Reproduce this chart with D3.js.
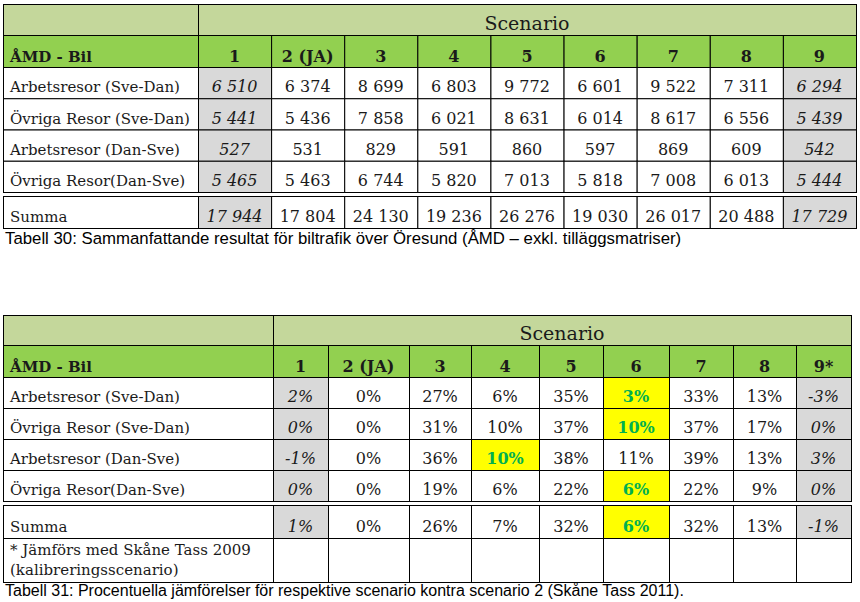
<!DOCTYPE html>
<html>
<head>
<meta charset="utf-8">
<script src="https://cdn.jsdelivr.net/npm/d3@7/dist/d3.min.js"></script>
<style>
  body { margin: 0; background: #fff; }
  svg text { font-family: "DejaVu Serif", serif; }
  svg text.caption { font-family: "Liberation Sans", Arial, sans-serif; }
</style>
</head>
<body>
<div id="chart"></div>
<script>
// --- data ---
var scenarios1 = ["1", "2 (JA)", "3", "4", "5", "6", "7", "8", "9"];
var scenarios2 = ["1", "2 (JA)", "3", "4", "5", "6", "7", "8", "9*"];
var rowLabels = ["Arbetsresor (Sve-Dan)", "Övriga Resor (Sve-Dan)", "Arbetsresor (Dan-Sve)", "Övriga Resor(Dan-Sve)", "Summa"];

// Tabell 30, number of car trips (ÅMD)
var arbetsSveDan = [6510, 6374, 8699, 6803, 9772, 6601, 9522, 7311, 6294];
var ovrigaSveDan = [5441, 5436, 7858, 6021, 8631, 6014, 8617, 6556, 5439];
var arbetsDanSve = [527, 531, 829, 591, 860, 597, 869, 609, 542];
var ovrigaDanSve = [5465, 5463, 6744, 5820, 7013, 5818, 7008, 6013, 5444];
var summa = [17944, 17804, 24130, 19236, 26276, 19030, 26017, 20488, 17729];

// Tabell 31, percent change vs scenario 2
var pctArbetsSveDan = [2, 0, 27, 6, 35, 3, 33, 13, -3];
var pctOvrigaSveDan = [0, 0, 31, 10, 37, 10, 37, 17, 0];
var pctArbetsDanSve = [-1, 0, 36, 10, 38, 11, 39, 13, 3];
var pctOvrigaDanSve = [0, 0, 19, 6, 22, 6, 22, 9, 0];
var pctSumma = [1, 0, 26, 7, 32, 6, 32, 13, -1];

var refCols = [0, 8];                                   // calibration columns (grey, italic)
var highlights = [[0, 5], [1, 5], [2, 3], [3, 5], [4, 5]]; // [row, col] in Tabell 31
var footnote = ["* Jämförs med Skåne Tass 2009", "(kalibreringsscenario)"];
var caption1 = "Tabell 30: Sammanfattande resultat för biltrafik över Öresund (ÅMD – exkl. tilläggsmatriser)";
var caption2 = "Tabell 31: Procentuella jämförelser för respektive scenario kontra scenario 2 (Skåne Tass 2011).";

// --- layout ---
var width = 860, height = 602;
var colors = {
    head1: "#c4d79b",
    head2: "#92d050",
    grey: "#d9d9d9",
    yellow: "#ffff00",
    green: "#00b050",
    text: "#1a1a1a"
};

var svLocale = d3.formatLocale({decimal: ",", thousands: "\u00a0", grouping: [3], currency: ["", " kr"]});
var fmtNum = svLocale.format(",d");
var fmtPct = function(d) { return d + "%"; };

var svg = d3.select("#chart").append("svg")
    .attr("width", width)
    .attr("height", height);

function drawTable(cfg) {
    var g = svg.append("g");
    var x = cfg.x, w = cfg.w;
    var left = cfg.left, labelEnd = cfg.labelEnd, right = cfg.right;

    // cells
    var cells = [];
    cfg.values.forEach(function(vals, r) {
        vals.forEach(function(v, c) {
            var hl = cfg.highlights.some(function(h) { return h[0] == r && h[1] == c; });
            cells.push({r: r, c: c, v: v, ref: refCols.indexOf(c) >= 0, hl: hl});
        });
    });

    function rowY(r) { return r < 4 ? cfg.y(rowLabels[r]) : cfg.summaY[0]; }
    function rowH(r) { return r < 4 ? cfg.y.bandwidth() : cfg.summaY[1] - cfg.summaY[0]; }

    // header row 1
    g.append("rect").attr("x", left + 0.5).attr("y", cfg.head1[0] + 0.5)
        .attr("width", right - left).attr("height", cfg.head1[1] - cfg.head1[0])
        .attr("fill", colors.head1).attr("stroke", "#000");
    g.append("line").attr("x1", labelEnd + 0.5).attr("x2", labelEnd + 0.5)
        .attr("y1", cfg.head1[0]).attr("y2", cfg.head1[1]).attr("stroke", "#000");
    g.append("text")
        .attr("x", (labelEnd + right) / 2).attr("y", cfg.head1[1] - 5)
        .attr("text-anchor", "middle").attr("font-size", 19).attr("fill", colors.text)
        .text("Scenario");

    // header row 2
    g.append("rect").attr("x", left + 0.5).attr("y", cfg.head2[0] + 0.5)
        .attr("width", labelEnd - left).attr("height", cfg.head2[1] - cfg.head2[0])
        .attr("fill", colors.head2).attr("stroke", "#000");
    g.append("text").attr("x", left + 7).attr("y", cfg.head2[1] - 5)
        .attr("font-size", 15).attr("font-weight", "bold").attr("fill", colors.text)
        .text("ÅMD - Bil");
    var head = g.selectAll(".head").data(cfg.scenarios).enter().append("g").attr("class", "head");
    head.append("rect")
        .attr("x", function(d) { return x(d) + 0.5; }).attr("y", cfg.head2[0] + 0.5)
        .attr("width", function(d) { return w(d); }).attr("height", cfg.head2[1] - cfg.head2[0])
        .attr("fill", colors.head2).attr("stroke", "#000");
    head.append("text")
        .attr("x", function(d) { return x(d) + w(d) / 2; }).attr("y", cfg.head2[1] - 5)
        .attr("text-anchor", "middle").attr("font-size", 16).attr("font-weight", "bold")
        .attr("fill", colors.text)
        .text(function(d) { return d; });

    // row labels
    var lab = g.selectAll(".lab").data(rowLabels).enter().append("g").attr("class", "lab");
    lab.append("rect")
        .attr("x", left + 0.5).attr("y", function(d, i) { return rowY(i) + 0.5; })
        .attr("width", labelEnd - left).attr("height", function(d, i) { return rowH(i); })
        .attr("fill", "#fff").attr("stroke", "#000");
    lab.append("text")
        .attr("x", left + 7).attr("y", function(d, i) { return rowY(i) + rowH(i) - 6; })
        .attr("font-size", 15).attr("fill", colors.text)
        .text(function(d) { return d; });

    // value cells
    var cell = g.selectAll(".cell").data(cells).enter().append("g").attr("class", "cell");
    cell.append("rect")
        .attr("x", function(d) { return x(cfg.scenarios[d.c]) + 0.5; })
        .attr("y", function(d) { return rowY(d.r) + 0.5; })
        .attr("width", function(d) { return w(cfg.scenarios[d.c]); })
        .attr("height", function(d) { return rowH(d.r); })
        .attr("fill", function(d) { return d.hl ? colors.yellow : (d.ref ? colors.grey : "#fff"); })
        .attr("stroke", "#000");
    cell.append("text")
        .attr("x", function(d) { return x(cfg.scenarios[d.c]) + w(cfg.scenarios[d.c]) / 2; })
        .attr("y", function(d) { return rowY(d.r) + rowH(d.r) - 6; })
        .attr("text-anchor", "middle").attr("font-size", 16)
        .attr("font-style", function(d) { return d.ref ? "italic" : null; })
        .attr("font-weight", function(d) { return d.hl ? "bold" : null; })
        .attr("fill", function(d) { return d.hl ? colors.green : colors.text; })
        .text(function(d) { return cfg.fmt(d.v); });

    // footnote row (Tabell 31)
    if (cfg.foot) {
        g.append("rect").attr("x", left + 0.5).attr("y", cfg.foot[0] + 0.5)
            .attr("width", labelEnd - left).attr("height", cfg.foot[1] - cfg.foot[0])
            .attr("fill", "#fff").attr("stroke", "#000");
        g.selectAll(".fcell").data(cfg.scenarios).enter().append("rect")
            .attr("x", function(d) { return x(d) + 0.5; }).attr("y", cfg.foot[0] + 0.5)
            .attr("width", function(d) { return w(d); }).attr("height", cfg.foot[1] - cfg.foot[0])
            .attr("fill", "#fff").attr("stroke", "#000");
        g.append("text").attr("font-size", 15).attr("fill", colors.text)
            .selectAll("tspan").data(footnote).enter().append("tspan")
            .attr("x", left + 7).attr("y", function(d, i) { return cfg.foot[0] + 17 + i * 20; })
            .text(function(d) { return d; });
    }

    // caption
    svg.append("text")
        .attr("class", "caption")
        .attr("x", left + 2).attr("y", cfg.captionY)
        .attr("font-size", cfg.captionSize)
        .attr("fill", "#000")
        .text(cfg.caption);
}

// Tabell 30: evenly spaced scenario columns
var x1 = d3.scaleBand().domain(scenarios1).range([198, 856]);
drawTable({
    scenarios: scenarios1,
    left: 3, labelEnd: 198, right: 856,
    x: x1, w: function() { return x1.bandwidth(); },
    head1: [4, 35], head2: [35, 67],
    y: d3.scaleBand().domain(rowLabels.slice(0, 4)).range([67, 192]),
    summaY: [196, 228],
    values: [arbetsSveDan, ovrigaSveDan, arbetsDanSve, ovrigaDanSve, summa],
    highlights: [],
    fmt: fmtNum,
    caption: caption1, captionY: 244, captionSize: 16.8
});

// Tabell 31: column widths follow the source document
var edges2 = [273, 328, 409, 471, 539, 603, 669, 733, 796, 851];
var x2 = d3.scaleOrdinal().domain(scenarios2).range(edges2.slice(0, -1));
var w2 = d3.scaleOrdinal().domain(scenarios2).range(edges2.slice(1).map(function(e, i) { return e - edges2[i]; }));
drawTable({
    scenarios: scenarios2,
    left: 3, labelEnd: 273, right: 851,
    x: x2, w: w2,
    head1: [315, 345], head2: [345, 377],
    y: d3.scaleBand().domain(rowLabels.slice(0, 4)).range([377, 501]),
    summaY: [505, 538],
    foot: [538, 582],
    values: [pctArbetsSveDan, pctOvrigaSveDan, pctArbetsDanSve, pctOvrigaDanSve, pctSumma],
    highlights: highlights,
    fmt: fmtPct,
    caption: caption2, captionY: 596, captionSize: 16
});
</script>
</body>
</html>
